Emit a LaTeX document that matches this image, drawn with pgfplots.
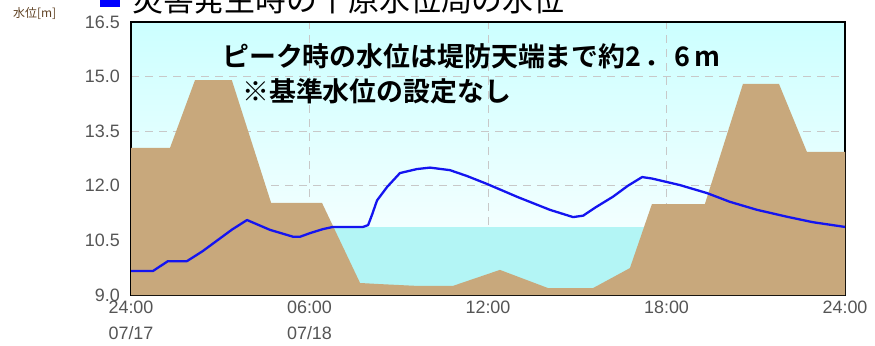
\documentclass[border=0pt]{standalone}
\usepackage{pgfplots}
\pgfplotsset{compat=1.18}
\usepackage{fontspec}
\setmainfont{Liberation Sans}
\newfontfamily\cjk[BoldFont={Noto Sans CJK JP Bold}]{Noto Sans CJK JP}
\definecolor{bgcyan}{RGB}{204,255,255}
\definecolor{water}{RGB}{179,245,245}
\definecolor{ground}{RGB}{200,168,124}
\definecolor{gridc}{RGB}{200,200,200}
\definecolor{tickc}{RGB}{85,85,85}
\definecolor{lineblue}{RGB}{20,20,240}
\definecolor{unitc}{RGB}{95,65,35}
\begin{document}
\begin{tikzpicture}[x=1bp,y=1bp]
\useasboundingbox (0,0) rectangle (875,345);
\begin{axis}[
  at={(131bp,50bp)}, anchor=south west,
  scale only axis, width=714bp, height=273bp,
  xmin=0, xmax=24, ymin=9, ymax=16.5,
  xtick={0,6,12,18,24},
  xticklabels={{24:00\\07/17},{06:00\\07/18},{12:00},{18:00},{24:00}},
  ytick={9,10.5,12,13.5,15,16.5},
  /pgf/number format/assume math mode=true,
  yticklabel style={/pgf/number format/fixed,/pgf/number format/fixed zerofill,/pgf/number format/precision=1,
    font=\fontsize{18}{20}\selectfont, text=tickc, anchor=east, inner sep=0pt, xshift=-11bp},
  xticklabel style={font=\fontsize{18}{26}\selectfont, text=tickc, align=center, anchor=north, inner sep=0pt, yshift=-6bp},
  major tick length=0pt,
  grid=major,
  major grid style={gridc, dash pattern=on 8bp off 6bp, line width=1bp},
  axis line style={black, line width=2bp},
  axis background/.style={top color=bgcyan, bottom color=white},
]
% water body
\addplot[fill=water, draw=none] coordinates {(0,9)(0,10.87)(24,10.87)(24,9)} -- cycle;
% ground / embankment profile
\addplot[fill=ground, draw=none] coordinates {
(0,9)(0,13.04)(1.31,13.04)(2.15,14.9)(3.39,14.9)(4.71,11.53)(6.42,11.53)(7.70,9.33)(8.37,9.3)(9.61,9.25)(10.82,9.25)(12.40,9.69)(14.02,9.19)(15.53,9.19)(16.77,9.74)(17.51,11.5)(19.29,11.5)(20.57,14.8)(21.78,14.8)(22.72,12.93)(24,12.93)(24,9)} -- cycle;
% water level
\addplot[lineblue, line width=2.3bp, line join=round] coordinates {
(0,9.66)(0.74,9.66)(1.24,9.93)(1.88,9.93)(2.4,10.2)(2.9,10.5)(3.4,10.8)(3.90,11.06)(4.67,10.79)(5.45,10.6)(5.68,10.6)(6.02,10.7)(6.45,10.81)(6.79,10.87)(7.80,10.87)(7.97,10.92)(8.10,11.2)(8.27,11.6)(8.61,11.97)(9.04,12.35)(9.61,12.46)(10.05,12.5)(10.72,12.43)(11.29,12.27)(11.97,12.05)(12.97,11.7)(14.08,11.34)(14.86,11.14)(15.2,11.18)(15.6,11.4)(16.2,11.7)(16.7,12.0)(17.18,12.24)(17.51,12.2)(18.45,12.02)(19.36,11.8)(20.13,11.56)(21.04,11.34)(22.05,11.15)(22.92,11.0)(24,10.87)};
\end{axis}
% legend marker and title (cut off at the top as in the original)
\fill[blue] (100,338) rectangle (120,358);
\node[anchor=base west, inner sep=0pt, font=\cjk\fontsize{31}{31}\selectfont] at (132,334) {災害発生時の千原水位局の水位};
\node[anchor=west, inner sep=0pt, font=\cjk\fontsize{12}{12}\selectfont, text=unitc] at (13,331) {水位[m]};
% annotations
\node[anchor=west, inner sep=0pt, font=\cjk\bfseries\fontsize{27}{27}\selectfont] at (222,289) {ピーク時の水位は堤防天端まで約2\kern3bp．\kern3bp 6\kern4bp m};
\node[anchor=west, inner sep=0pt, font=\cjk\bfseries\fontsize{27}{27}\selectfont] at (242,254) {※基準水位の設定なし};
\end{tikzpicture}
\end{document}
